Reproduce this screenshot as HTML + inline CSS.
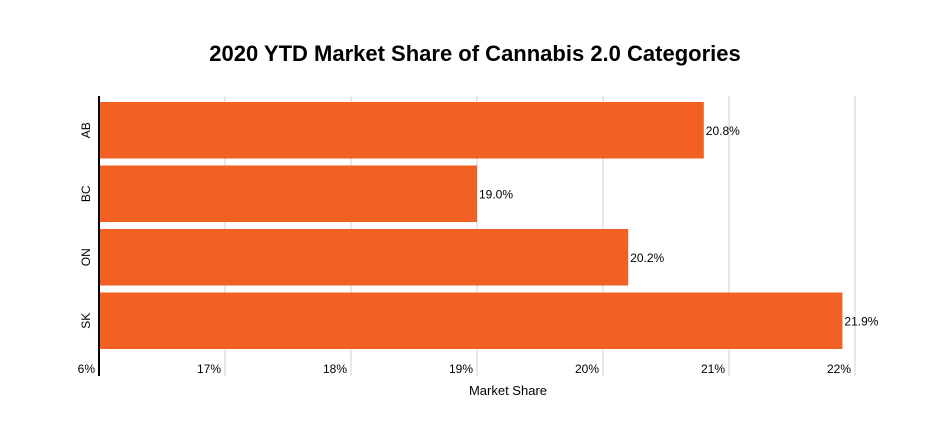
<!DOCTYPE html>
<html><head><meta charset="utf-8"><style>
body{margin:0;background:#fff;font-family:"Liberation Sans",Arial,sans-serif}
svg text{font-family:"Liberation Sans",Arial,sans-serif}
</style></head><body>
<svg id="chart" width="944" height="432" xmlns="http://www.w3.org/2000/svg">
<rect width="944" height="432" fill="#fff"/>
<text x="475" y="61" text-anchor="middle" font-size="22" font-weight="bold" fill="#000">2020 YTD Market Share of Cannabis 2.0 Categories</text>
<g id="grid"></g><g id="bars"></g><g id="labels"></g>
<text x="508" y="395" text-anchor="middle" font-size="13" fill="#000">Market Share</text>
</svg>
<script>
const categories=["AB","BC","ON","SK"];
const values=[20.8,19.0,20.2,21.9];
const ticks=[16,17,18,19,20,21,22];
const tickLabels=["6%","17%","18%","19%","20%","21%","22%"];
const NS="http://www.w3.org/2000/svg";
const x0=99,pxPer=126,xMin=16,plotTop=98,bandH=63.5,yBottom=376;
const xs=v=>x0+(v-xMin)*pxPer;
function mk(t,a,p){const e=document.createElementNS(NS,t);for(const k in a)e.setAttribute(k,a[k]);p.appendChild(e);return e;}
const g=document.getElementById('grid'),b=document.getElementById('bars'),l=document.getElementById('labels');
ticks.forEach((t,i)=>{
  if(i>0){const ln=mk('line',{x1:xs(t),x2:xs(t),y1:96,y2:yBottom,stroke:'#d0d0d0','stroke-width':1},g);
  
  }
  const tx=mk('text',{x:xs(t)-4,y:373,'text-anchor':'end','font-size':12,fill:'#000'},l);
  tx.textContent=tickLabels[i];
  
  
});
categories.forEach((c,i)=>{
  const y=plotTop+i*bandH+4;
  const r=mk('rect',{x:x0,y:y,width:xs(values[i])-x0,height:bandH-7,fill:'#f26024'},b);
  
  
  const v=mk('text',{x:xs(values[i])+2,y:y+bandH/2+1,'font-size':12,fill:'#000'},l);
  v.textContent=values[i].toFixed(1)+'%';
  
  
  const cy=y+(bandH-7)/2;
  const ct=mk('text',{x:0,y:0,'text-anchor':'middle','font-size':12,fill:'#000',transform:`translate(90,${cy}) rotate(-90)`},l);
  ct.textContent=c;
  
  
});
const ax=mk('line',{x1:x0,x2:x0,y1:96,y2:yBottom,stroke:'#000','stroke-width':2},document.getElementById('chart'));


</script>
</body></html>
